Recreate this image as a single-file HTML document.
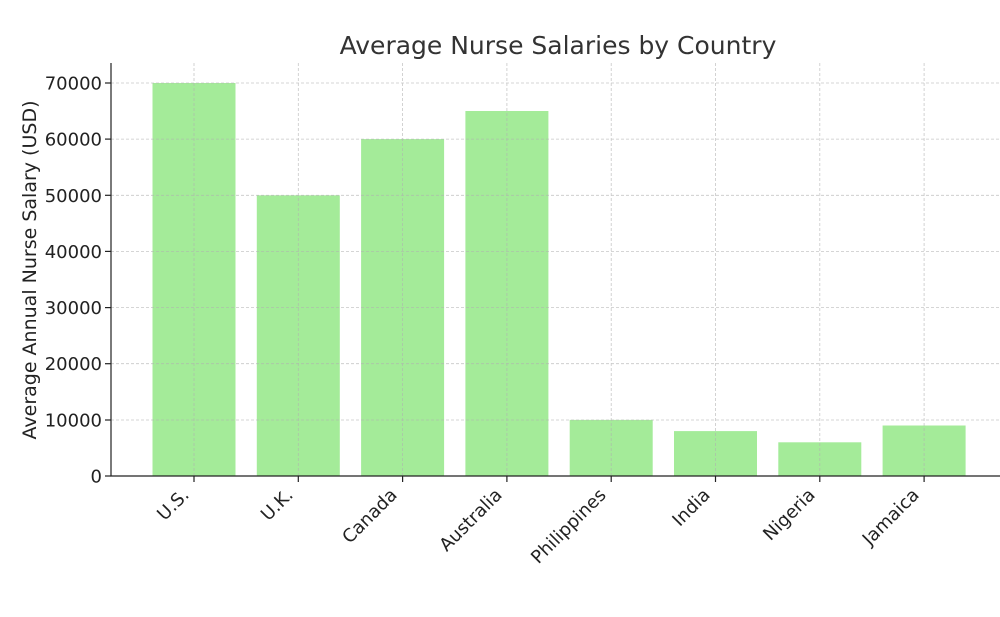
<!DOCTYPE html>
<html><head><meta charset="utf-8"><style>body{margin:0;background:#fff}svg{display:block}</style></head>
<body>
<svg width="1000" height="617" xmlns="http://www.w3.org/2000/svg" font-family="DejaVu Sans, Liberation Sans, sans-serif">
<rect width="1000" height="617" fill="#fff"/>
<g fill="#a4eb99">
<rect x="152.5" y="83" width="83" height="393"/>
<rect x="256.8" y="195.3" width="83" height="280.7"/>
<rect x="361.1" y="139.1" width="83" height="336.9"/>
<rect x="465.4" y="111" width="83" height="365"/>
<rect x="569.7" y="419.9" width="83" height="56.1"/>
<rect x="674" y="431.1" width="83" height="44.9"/>
<rect x="778.3" y="442.3" width="83" height="33.7"/>
<rect x="882.6" y="425.5" width="83" height="50.5"/>
</g>
<g stroke="#b0b0b0" stroke-width="0.8" stroke-dasharray="3,2" opacity="0.7">
<line x1="111" x2="1000" y1="420" y2="420"/><line x1="111" x2="1000" y1="363.7" y2="363.7"/>
<line x1="111" x2="1000" y1="307.6" y2="307.6"/><line x1="111" x2="1000" y1="251.4" y2="251.4"/>
<line x1="111" x2="1000" y1="195.3" y2="195.3"/><line x1="111" x2="1000" y1="139.1" y2="139.1"/>
<line x1="111" x2="1000" y1="83" y2="83"/>
<line x1="194" x2="194" y1="63" y2="476"/><line x1="298.3" x2="298.3" y1="63" y2="476"/>
<line x1="402.6" x2="402.6" y1="63" y2="476"/><line x1="506.9" x2="506.9" y1="63" y2="476"/>
<line x1="611.2" x2="611.2" y1="63" y2="476"/><line x1="715.5" x2="715.5" y1="63" y2="476"/>
<line x1="819.8" x2="819.8" y1="63" y2="476"/><line x1="924.1" x2="924.1" y1="63" y2="476"/>
</g>
<g stroke="#222" stroke-width="1.2">
<line x1="111" x2="111" y1="63" y2="476.5"/><line x1="110.5" x2="1000" y1="476" y2="476"/>
<line x1="105" x2="111" y1="476" y2="476"/><line x1="105" x2="111" y1="420" y2="420"/><line x1="105" x2="111" y1="363.7" y2="363.7"/><line x1="105" x2="111" y1="307.6" y2="307.6"/><line x1="105" x2="111" y1="251.4" y2="251.4"/><line x1="105" x2="111" y1="195.3" y2="195.3"/><line x1="105" x2="111" y1="139.1" y2="139.1"/><line x1="105" x2="111" y1="83" y2="83"/>
<line x1="194" x2="194" y1="476" y2="482"/><line x1="298.3" x2="298.3" y1="476" y2="482"/><line x1="402.6" x2="402.6" y1="476" y2="482"/><line x1="506.9" x2="506.9" y1="476" y2="482"/><line x1="611.2" x2="611.2" y1="476" y2="482"/><line x1="715.5" x2="715.5" y1="476" y2="482"/><line x1="819.8" x2="819.8" y1="476" y2="482"/><line x1="924.1" x2="924.1" y1="476" y2="482"/>
</g>
<g fill="#222" font-size="18" text-anchor="end">
<text x="102" y="482.5">0</text><text x="102" y="426.5">10000</text><text x="102" y="370.2">20000</text><text x="102" y="314.1">30000</text><text x="102" y="257.9">40000</text><text x="102" y="201.8">50000</text><text x="102" y="145.6">60000</text><text x="102" y="89.5">70000</text>
<text transform="translate(190,496) rotate(-45)">U.S.</text>
<text transform="translate(294,496) rotate(-45)">U.K.</text>
<text transform="translate(398,496) rotate(-45)">Canada</text>
<text transform="translate(503,496) rotate(-45)">Australia</text>
<text transform="translate(607,496) rotate(-45)">Philippines</text>
<text transform="translate(711,496) rotate(-45)">India</text>
<text transform="translate(816,496) rotate(-45)">Nigeria</text>
<text transform="translate(920,496) rotate(-45)">Jamaica</text>
</g>
<text x="36" y="270" font-size="19" fill="#222" text-anchor="middle" transform="rotate(-90,36,270)">Average Annual Nurse Salary (USD)</text>
<text x="558" y="54" font-size="25" fill="#333" text-anchor="middle">Average Nurse Salaries by Country</text>
</svg>
</body></html>
